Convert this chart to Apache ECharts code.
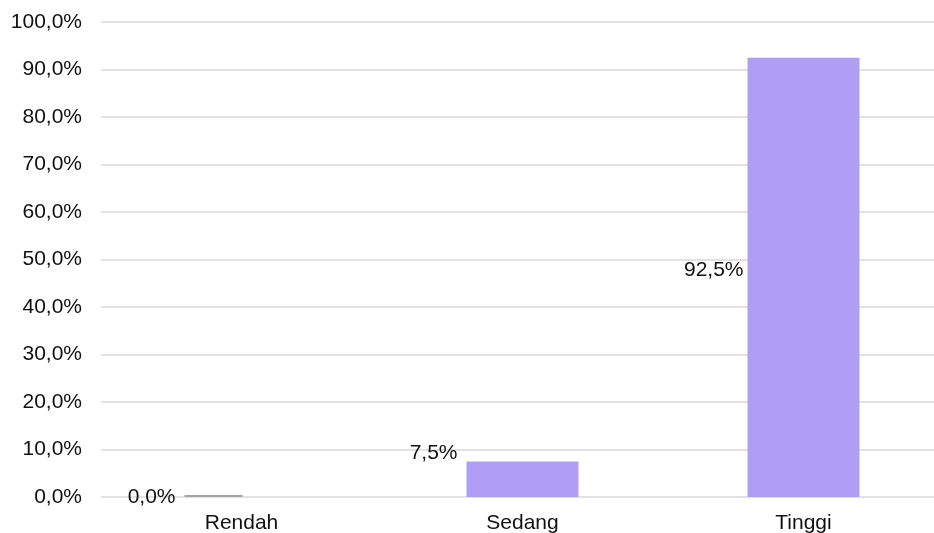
<!DOCTYPE html>
<html>
<head>
<meta charset="utf-8">
<style>
  html, body { margin: 0; padding: 0; background: #ffffff; overflow: hidden; }
  #wrap { width: 934px; height: 533px; overflow: hidden; }
  #chart { width: 944px; height: 533px; }
</style>
<script src="https://cdn.jsdelivr.net/npm/echarts@6/dist/echarts.min.js"></script>
</head>
<body>
<div id="wrap"><div id="chart"></div></div>
<script>
// ---- Data ----
const categories = ['Rendah', 'Sedang', 'Tinggi'];
const values = [0, 7.5, 92.5];
const yTicks = { min: 0, max: 100, interval: 10 };

// ---- Helpers ----
const fmt = v => v.toFixed(1).replace('.', ',') + '%';
const FONT = 'Liberation Sans, Arial, sans-serif';
const TEXT = '#111111';
const FS = 21;

// per-category label placement (style only)
const labelStyle = [
  { distance: 9, offset: [0, 1] },
  { distance: 9, offset: [0, -26] },
  { distance: 4, offset: [0, -7] }
];

const purpleData = values.map((v, i) => ({
  value: v,
  label: Object.assign({ show: v !== 0 }, labelStyle[i])
}));
const grayData = values.map((v, i) => v === 0 ? {
  value: v,
  label: Object.assign({ show: true }, labelStyle[i])
} : null);

const chart = echarts.init(document.getElementById('chart'), null, { renderer: 'canvas' });
chart.setOption({
  animation: false,
  backgroundColor: '#ffffff',
  grid: { left: 101, top: 22, right: 0, bottom: 36, containLabel: false, outerBoundsMode: 'none' },
  xAxis: [
    {
      type: 'category',
      data: categories,
      axisLine: { show: false },
      axisTick: { show: false },
      axisLabel: { color: TEXT, fontFamily: FONT, fontSize: FS, margin: 16 }
    },
    {
      type: 'category',
      data: categories,
      show: false
    }
  ],
  yAxis: {
    type: 'value',
    min: yTicks.min, max: yTicks.max, interval: yTicks.interval,
    axisLine: { show: false },
    axisTick: { show: false },
    splitLine: { lineStyle: { color: '#d9d9d9', width: 1.5 } },
    axisLabel: {
      color: TEXT, fontFamily: FONT, fontSize: FS, margin: 19,
      formatter: fmt
    }
  },
  series: [
    {
      type: 'bar',
      xAxisIndex: 0,
      data: purpleData,
      barWidth: 112,
      itemStyle: { color: '#b09ef5' },
      label: {
        position: 'left',
        color: TEXT, fontFamily: FONT, fontSize: FS,
        formatter: p => fmt(p.value)
      }
    },
    {
      type: 'bar',
      xAxisIndex: 1,
      data: grayData,
      barWidth: 58,
      barGap: 0,
      barMinHeight: 2,
      itemStyle: { color: '#a3a3a3' },
      label: {
        position: 'left',
        color: TEXT, fontFamily: FONT, fontSize: FS,
        formatter: p => fmt(p.value)
      }
    },
    {
      type: 'bar',
      xAxisIndex: 1,
      data: values.map(() => null),
      barWidth: 56,
      barGap: 0,
      itemStyle: { color: 'transparent' }
    }
  ]
});
</script>
</body>
</html>
